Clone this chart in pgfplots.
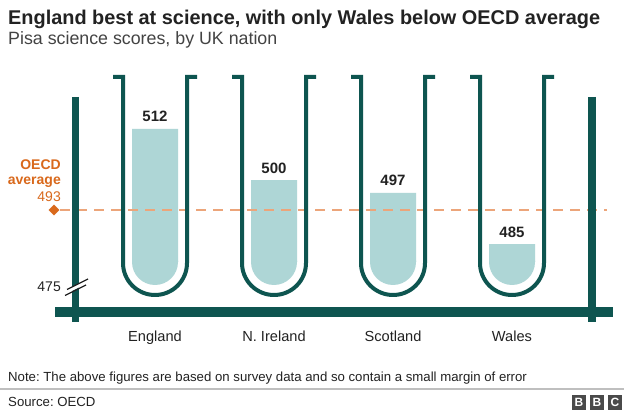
\documentclass[border=0pt]{standalone}
\usepackage{fontspec}
\setmainfont{Liberation Sans}
\usepackage{pgfplots}
\pgfplotsset{compat=1.18}
\definecolor{rack}{HTML}{0E5550}
\definecolor{liquid}{HTML}{AED6D6}
\definecolor{oecd}{HTML}{D9691C}
\definecolor{dashc}{HTML}{ECA57A}
\definecolor{txt}{HTML}{222222}
\definecolor{bbc}{HTML}{4A4A4A}
\frenchspacing
\begin{document}
\begin{tikzpicture}
\useasboundingbox (0,0) rectangle (624pt,414pt);
\fill[white] (0,0) rectangle (624pt,414pt);
\begin{axis}[at={(0pt,152pt)}, anchor=south west, scale only axis,
  width=624pt, height=262pt,
  xmin=-1.302521, xmax=3.941176, ymin=480.84, ymax=542.17,
  hide axis, clip=true,
  /pgf/number format/assume math mode=true]
\addplot[ybar, bar width=46pt, bar shift=0pt, fill=liquid, draw=none,
  nodes near coords,
  nodes near coords style={anchor=base, yshift=7pt, text=txt,
    font=\fontsize{15}{18}\selectfont\bfseries}]
  coordinates {(0,512) (1,500) (2,497) (3,485)};
\addplot[dashc, line width=2pt, dash pattern=on 10pt off 7pt]
  coordinates {(-0.798,493) (3.798,493)};
\addplot[only marks, mark=square*, mark size=3.6pt,
  mark options={rotate=45, fill=oecd, draw=oecd}]
  coordinates {(-0.8487,493)};
\end{axis}
\begin{scope}[x=1pt, y=-1pt, shift={(0pt,414pt)}]
\foreach \cx in {155,274,393,512}{
  \fill[liquid] (\cx-23,261) -- (\cx-23,262) arc[start angle=180, end angle=0, radius=23] -- (\cx+23,261) -- cycle;
  \draw[rack, line width=4pt] (\cx-42,77) -- (\cx-32,77) -- (\cx-32,263)
     arc[start angle=180, end angle=0, radius=32] -- (\cx+32,77) -- (\cx+42,77);
}
\draw[rack, line width=7.5pt] (75.5,97) -- (75.5,322);
\draw[rack, line width=8pt] (592,97) -- (592,322);
\draw[rack, line width=10.5pt] (55,312) -- (613,312);
% axis break
\draw[white, line width=3.5pt] (64,293) -- (88,281);
\draw[txt, line width=1.2pt] (65,295.5) -- (86,285);
\draw[txt, line width=1.2pt] (67,289.5) -- (88,279);
% texts
\node[anchor=base west, inner sep=0pt, text=txt, font=\fontsize{19.9}{21}\selectfont\bfseries] at (8,25) {England best at science, with only Wales below OECD average};
\node[anchor=base west, inner sep=0pt, text=txt!85, font=\fontsize{17.8}{19}\selectfont] at (8,45) {Pisa science scores, by UK nation};
\node[anchor=base east, inner sep=0pt, text=oecd, font=\fontsize{14}{16}\selectfont\bfseries] at (61,170) {OECD};
\node[anchor=base east, inner sep=0pt, text=oecd, font=\fontsize{14}{16}\selectfont\bfseries] at (61,185) {average};
\node[anchor=base east, inner sep=0pt, text=oecd, font=\fontsize{14}{16}\selectfont] at (61,202) {493};
\node[anchor=base east, inner sep=0pt, text=txt, font=\fontsize{14}{16}\selectfont] at (61,292) {475};
\foreach \cx/\name in {155/England,274/{N. Ireland},393/Scotland,512/Wales}{
  \node[anchor=base, inner sep=0pt, text=txt, font=\fontsize{14.6}{16}\selectfont] at (\cx,342) {\name};
}
\node[anchor=base west, inner sep=0pt, text=txt, font=\fontsize{13.2}{15}\selectfont] at (8,382) {Note: The above figures are based on survey data and so contain a small margin of error};
\draw[black!25, line width=2pt] (0,389.5) -- (624,389.5);
\node[anchor=base west, inner sep=0pt, text=txt, font=\fontsize{13.2}{15}\selectfont] at (8,407) {Source: OECD};
\foreach \x/\l in {572/B,590/B,608/C}{
  \fill[bbc] (\x,395) rectangle (\x+14,410);
  \node[text=white, inner sep=0pt, font=\fontsize{12}{12}\selectfont\bfseries] at (\x+7,402.5) {\l};
}
\end{scope}
\end{tikzpicture}
\end{document}
